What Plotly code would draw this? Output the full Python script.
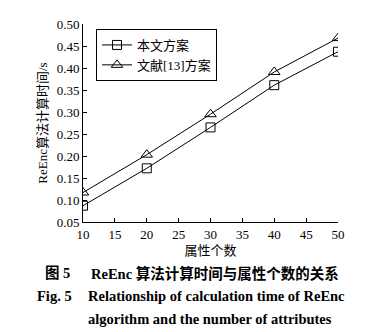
import plotly.graph_objects as go

# Number of attributes and ReEnc computation time (s)
attributes = [10, 20, 30, 40, 50]
time_ours = [0.087, 0.172, 0.265, 0.361, 0.437]
time_ref13 = [0.117, 0.203, 0.295, 0.391, 0.468]
series_names = ["本文方案", "文献[13]方案"]
y_ticks = [0.05, 0.10, 0.15, 0.20, 0.25, 0.30, 0.35, 0.40, 0.45, 0.50]
y_tick_labels = ["0.05", "0.10", "0.15", "0.20", "0.25", "0.30", "0.35", "0.40", "0.45", "0.50"]
x_ticks = [10, 15, 20, 25, 30, 35, 40, 45, 50]

FONT = "Liberation Serif, Times New Roman, Noto Sans CJK SC, serif"

fig = go.Figure()
fig.add_trace(go.Scatter(
    x=attributes, y=time_ours, name=series_names[0], mode="lines+markers",
    line=dict(color="black", width=1),
    marker=dict(symbol="square-open", size=9, color="black", line=dict(width=1)),
))
fig.add_trace(go.Scatter(
    x=attributes, y=time_ref13, name=series_names[1], mode="lines+markers",
    line=dict(color="black", width=1),
    marker=dict(symbol="triangle-up-open", size=10, color="black", line=dict(width=1)),
))

L, R, T, B = 83, 338, 24, 222
W, H = 387, 332


def px(xp):
    return (xp - L) / (R - L)


def py(yp):
    return (B - yp) / (B - T)


fig.update_layout(
    width=W, height=H,
    margin=dict(l=L, r=W - R, t=T, b=H - B),
    paper_bgcolor="white", plot_bgcolor="white",
    font=dict(family=FONT, size=13, color="black"),
    showlegend=True,
    legend=dict(
        x=px(96), y=py(29), xanchor="left", yanchor="top",
        bordercolor="black", borderwidth=1, bgcolor="white",
        font=dict(size=13, family=FONT), itemwidth=30,
        tracegroupgap=0,
    ),
    xaxis=dict(
        range=[10, 50], tickvals=x_ticks, showline=True, linecolor="black",
        linewidth=1, ticks="inside", ticklen=4, tickcolor="black",
        showgrid=False, zeroline=False, mirror=False,
        tickfont=dict(size=13, family=FONT),
        title=dict(text="属性个数", font=dict(size=13, family=FONT), standoff=5),
    ),
    yaxis=dict(
        range=[0.05, 0.50], tickvals=y_ticks, ticktext=y_tick_labels,
        showline=True, linecolor="black", linewidth=1, ticks="inside",
        ticklen=4, tickcolor="black", showgrid=False, zeroline=False,
        tickfont=dict(size=13, family=FONT),
        title=dict(text="ReEnc算法计算时间/s", font=dict(size=13, family=FONT), standoff=6),
    ),
)

caption = [
    ("图 5", "ReEnc 算法计算时间与属性个数的关系", 43, 89, 273),
    ("Fig. 5", "Relationship of calculation time of ReEnc", 35, 86, 296),
    ("", "algorithm and the number of attributes", 0, 86, 319),
]
for label, text, xl, xt, yc in caption:
    if label:
        fig.add_annotation(
            text="<b>%s</b>" % label, xref="paper", yref="paper",
            x=px(xl), y=py(yc), xanchor="left", yanchor="middle",
            showarrow=False, font=dict(size=14.5, family=FONT),
        )
    fig.add_annotation(
        text="<b>%s</b>" % text, xref="paper", yref="paper",
        x=px(xt), y=py(yc), xanchor="left", yanchor="middle",
        showarrow=False, font=dict(size=14.5, family=FONT),
    )

fig.write_html("out.html")
